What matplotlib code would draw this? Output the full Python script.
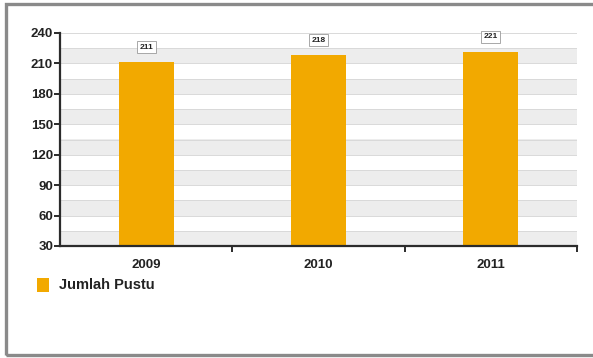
import matplotlib
matplotlib.use("Agg")
import matplotlib.pyplot as plt
from matplotlib.patches import Rectangle

# data
years = ["2009", "2010", "2011"]
jumlah_pustu = [211, 218, 221]
series_name = "Jumlah Pustu"
y_ticks = [30, 60, 90, 120, 150, 180, 210, 240]

BAR = "#F2A900"
BAND = "#EDEDED"
GRIDLINE = "#D9D9D9"
AXIS = "#2b2b2b"
FRAME = "#8a8a8a"

plt.rcParams["font.family"] = ["Liberation Sans", "DejaVu Sans"]

W, H = 593, 358
fig = plt.figure(figsize=(W / 100, H / 100), dpi=100)
fig.patch.set_facecolor("white")

# outer panel frame
fig.patches.append(Rectangle((6 / W, 3 / H), 620 / W, (H - 7) / H, transform=fig.transFigure,
                             fill=False, edgecolor=FRAME, linewidth=2.4, zorder=0))

ax = fig.add_axes([60 / W, 1 - 246 / H, (577 - 60) / W, (246 - 33) / H])
ax.set_facecolor("white")
ax.set_ylim(y_ticks[0], y_ticks[-1])
ax.set_xlim(-0.5, len(years) - 0.5)

# alternating horizontal bands every half step
step = y_ticks[1] - y_ticks[0]
for v in y_ticks[:-1]:
    ax.axhspan(v, v + step / 2, color=BAND, lw=0, zorder=0)
    ax.axhline(v, color=GRIDLINE, lw=0.7, zorder=0.5)
    ax.axhline(v + step / 2, color=GRIDLINE, lw=0.7, zorder=0.5)
ax.axhline(y_ticks[-1], color=GRIDLINE, lw=0.7, zorder=0.5)

x = range(len(years))
bars = ax.bar(x, jumlah_pustu, width=0.32, color=BAR, label=series_name, zorder=2)

for xi, v in zip(x, jumlah_pustu):
    ax.annotate(str(v), (xi, v), xytext=(0, 11), textcoords="offset points",
                ha="center", va="center", fontsize=6, fontweight="bold", color="#222",
                bbox=dict(boxstyle="square,pad=0.3", fc="white", ec="#9a9a9a", lw=0.6),
                zorder=3)

for s in ("top", "right"):
    ax.spines[s].set_visible(False)
for s in ("left", "bottom"):
    ax.spines[s].set_color(AXIS)
    ax.spines[s].set_linewidth(1.6)

ax.set_yticks(y_ticks)
ax.tick_params(axis="y", direction="out", length=4, width=1.4, color=AXIS,
               labelsize=9.5, pad=1)
ax.set_xticks(list(x))
ax.set_xticklabels(years)
ax.set_xticks([i + 0.5 for i in x], minor=True)
ax.tick_params(axis="x", which="major", length=0, labelsize=9.5, pad=9)
ax.tick_params(axis="x", which="minor", direction="out", length=4, width=1.4, color=AXIS)
for lab in ax.get_xticklabels() + ax.get_yticklabels():
    lab.set_fontweight("bold")
    lab.set_color("#222")

fig.legend(handles=[bars], labels=[series_name], loc="center left",
           bbox_to_anchor=(24 / W, 1 - 285 / H), frameon=False,
           handlelength=0.8, handleheight=1.1, handletextpad=0.7,
           prop=dict(size=10.5, weight="bold"), labelcolor="#222")

fig.savefig("out.png", dpi=100)
